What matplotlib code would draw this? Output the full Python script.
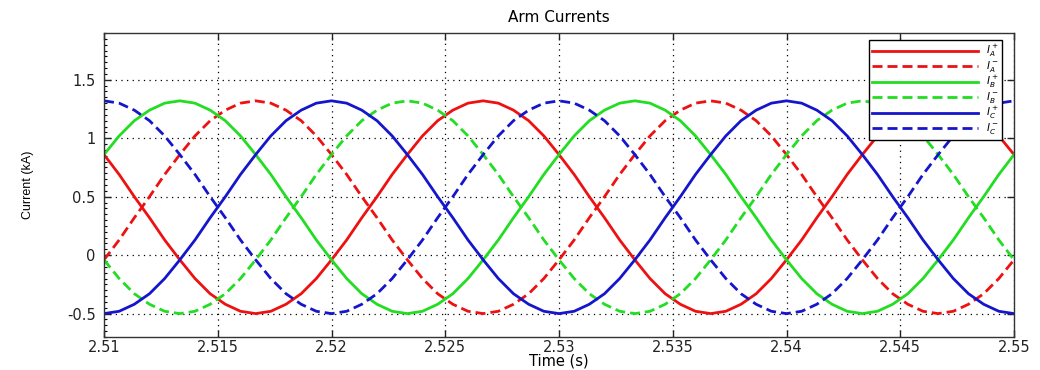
import numpy as np
import matplotlib.pyplot as plt
from matplotlib.ticker import MultipleLocator

plt.rcParams['font.family'] = ['DejaVu Sans']

# sample times (s), one sample every 1/30 of a 50 Hz period
t = np.linspace(2.51, 2.55, 61)

# arm currents (kA)
ia_pos = [0.86, 0.69, 0.50, 0.32, 0.13, -0.04, -0.20, -0.33, -0.42, -0.48,
          -0.50, -0.48, -0.42, -0.33, -0.20, -0.04, 0.13, 0.32, 0.50, 0.69,
          0.86, 1.02, 1.15, 1.24, 1.30, 1.32, 1.30, 1.24, 1.15, 1.02,
          0.86, 0.69, 0.50, 0.32, 0.13, -0.04, -0.20, -0.33, -0.42, -0.48,
          -0.50, -0.48, -0.42, -0.33, -0.20, -0.04, 0.13, 0.32, 0.50, 0.69,
          0.86, 1.02, 1.15, 1.24, 1.30, 1.32, 1.30, 1.24, 1.15, 1.02,
          0.86]
ia_neg = [-0.04, 0.13, 0.32, 0.50, 0.69, 0.86, 1.02, 1.15, 1.24, 1.30,
          1.32, 1.30, 1.24, 1.15, 1.02, 0.86, 0.69, 0.50, 0.32, 0.13,
          -0.04, -0.20, -0.33, -0.42, -0.48, -0.50, -0.48, -0.42, -0.33, -0.20,
          -0.04, 0.13, 0.32, 0.50, 0.69, 0.86, 1.02, 1.15, 1.24, 1.30,
          1.32, 1.30, 1.24, 1.15, 1.02, 0.86, 0.69, 0.50, 0.32, 0.13,
          -0.04, -0.20, -0.33, -0.42, -0.48, -0.50, -0.48, -0.42, -0.33, -0.20,
          -0.04]
ib_pos = [0.86, 1.02, 1.15, 1.24, 1.30, 1.32, 1.30, 1.24, 1.15, 1.02,
          0.86, 0.69, 0.50, 0.32, 0.13, -0.04, -0.20, -0.33, -0.42, -0.48,
          -0.50, -0.48, -0.42, -0.33, -0.20, -0.04, 0.13, 0.32, 0.50, 0.69,
          0.86, 1.02, 1.15, 1.24, 1.30, 1.32, 1.30, 1.24, 1.15, 1.02,
          0.86, 0.69, 0.50, 0.32, 0.13, -0.04, -0.20, -0.33, -0.42, -0.48,
          -0.50, -0.48, -0.42, -0.33, -0.20, -0.04, 0.13, 0.32, 0.50, 0.69,
          0.86]
ib_neg = [-0.04, -0.20, -0.33, -0.42, -0.48, -0.50, -0.48, -0.42, -0.33, -0.20,
          -0.04, 0.13, 0.32, 0.50, 0.69, 0.86, 1.02, 1.15, 1.24, 1.30,
          1.32, 1.30, 1.24, 1.15, 1.02, 0.86, 0.69, 0.50, 0.32, 0.13,
          -0.04, -0.20, -0.33, -0.42, -0.48, -0.50, -0.48, -0.42, -0.33, -0.20,
          -0.04, 0.13, 0.32, 0.50, 0.69, 0.86, 1.02, 1.15, 1.24, 1.30,
          1.32, 1.30, 1.24, 1.15, 1.02, 0.86, 0.69, 0.50, 0.32, 0.13,
          -0.04]
ic_pos = [-0.50, -0.48, -0.42, -0.33, -0.20, -0.04, 0.13, 0.32, 0.50, 0.69,
          0.86, 1.02, 1.15, 1.24, 1.30, 1.32, 1.30, 1.24, 1.15, 1.02,
          0.86, 0.69, 0.50, 0.32, 0.13, -0.04, -0.20, -0.33, -0.42, -0.48,
          -0.50, -0.48, -0.42, -0.33, -0.20, -0.04, 0.13, 0.32, 0.50, 0.69,
          0.86, 1.02, 1.15, 1.24, 1.30, 1.32, 1.30, 1.24, 1.15, 1.02,
          0.86, 0.69, 0.50, 0.32, 0.13, -0.04, -0.20, -0.33, -0.42, -0.48,
          -0.50]
ic_neg = [1.32, 1.30, 1.24, 1.15, 1.02, 0.86, 0.69, 0.50, 0.32, 0.13,
          -0.04, -0.20, -0.33, -0.42, -0.48, -0.50, -0.48, -0.42, -0.33, -0.20,
          -0.04, 0.13, 0.32, 0.50, 0.69, 0.86, 1.02, 1.15, 1.24, 1.30,
          1.32, 1.30, 1.24, 1.15, 1.02, 0.86, 0.69, 0.50, 0.32, 0.13,
          -0.04, -0.20, -0.33, -0.42, -0.48, -0.50, -0.48, -0.42, -0.33, -0.20,
          -0.04, 0.13, 0.32, 0.50, 0.69, 0.86, 1.02, 1.15, 1.24, 1.30,
          1.32]

series = [ia_pos, ia_neg, ib_pos, ib_neg, ic_pos, ic_neg]
labels = [r'$I_A^+$', r'$I_A^-$', r'$I_B^+$', r'$I_B^-$', r'$I_C^+$', r'$I_C^-$']
colors = ['#ee1111', '#ee1111', '#22dd22', '#22dd22', '#1515cc', '#1515cc']
styles = ['-', (0, (3.6, 1.8)), '-', (0, (3.6, 1.8)), '-', (0, (3.6, 1.8))]

xticks = [2.51, 2.515, 2.52, 2.525, 2.53, 2.535, 2.54, 2.545, 2.55]
xticklabels = ['2.51', '2.515', '2.52', '2.525', '2.53', '2.535', '2.54', '2.545', '2.55']
yticks = [-0.5, 0, 0.5, 1, 1.5]
yticklabels = ['-0.5', '0', '0.5', '1', '1.5']

fig = plt.figure(figsize=(10.4, 3.7), dpi=100)
ax = fig.add_axes([0.1, 0.0892, 0.875, 0.8216])

for y, lab, c, ls in zip(series, labels, colors, styles):
    ax.plot(t, y, color=c, linestyle=ls, linewidth=2.0, label=lab)

ax.set_xlim(2.51, 2.55)
ax.set_ylim(-0.7, 1.9)
ax.set_xticks(xticks)
ax.set_xticklabels(xticklabels)
ax.set_yticks(yticks)
ax.set_yticklabels(yticklabels)
ax.yaxis.set_minor_locator(MultipleLocator(0.05))

ax.tick_params(which='major', direction='in', length=5, width=1,
               top=True, right=True, labelsize=10.5, colors='#222222', pad=6)
ax.tick_params(which='minor', direction='in', length=2.5, width=0.8,
               left=True, right=False)
ax.tick_params(axis='x', pad=2)
ax.grid(True, which='major', color='black', linestyle=(0, (1, 3.5)), linewidth=0.9)
for sp in ax.spines.values():
    sp.set_color('#333333')
    sp.set_linewidth(1.0)

ax.set_title('Arm Currents', fontsize=11, pad=8)
ax.set_xlabel('Time (s)', fontsize=10.5, labelpad=-1)
ax.set_ylabel('Current (kA)', fontsize=9, family='Liberation Sans', labelpad=24)

leg = ax.legend(loc='upper right', bbox_to_anchor=(0.987, 0.977), borderaxespad=0,
                fontsize=7.5, handlelength=10.2, handletextpad=0.8, labelspacing=0.0,
                borderpad=0.3, fancybox=False, framealpha=1)
leg.get_frame().set_edgecolor('black')
leg.get_frame().set_linewidth(1.0)

fig.savefig('out.png', dpi=100)
